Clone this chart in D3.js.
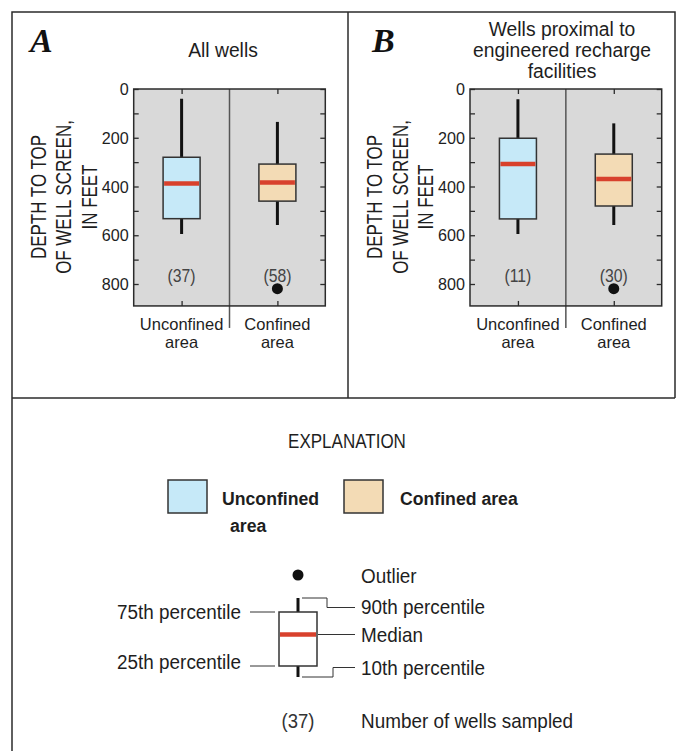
<!DOCTYPE html>
<html>
<head>
<meta charset="utf-8">
<script src="https://cdnjs.cloudflare.com/ajax/libs/d3/7.8.5/d3.min.js"></script>
<style>
  body { margin: 0; background: #fff; }
  svg { display: block; font-family: "Liberation Sans", Arial, sans-serif; }
</style>
</head>
<body>
<svg width="676" height="751"></svg>
<script>
// categories and values (depth to top of well screen, feet)
var categories = ["Unconfined area", "Confined area"]
var catLines = [["Unconfined", "area"], ["Confined", "area"]]
var fills = ["#c6e9f8", "#f3dbb5"]

// [whisker top, box top, median, box bottom, whisker bottom]
var allWells = [[40, 280, 388, 532, 595], [135, 308, 384, 460, 558]]
var allCounts = [37, 58]
var allOutliers = [[], [819]]

var proxWells = [[42, 202, 308, 533, 595], [141, 267, 369, 480, 558]]
var proxCounts = [11, 30]
var proxOutliers = [[], [819]]

var yTicks = [0, 200, 400, 600, 800]
var yMinor = [100, 300, 500, 700]

var svg = d3.select("svg")
var dark = "#2b2b2b"

// condensed-looking text: scale along the reading direction
function txt(parent, str, x, y, size, sx, anchor) {
    return parent.append("text").text(str)
        .attr("transform", "translate(" + x + "," + y + ") scale(" + sx + ",1)")
        .attr("text-anchor", anchor || "start")
        .style("font-size", size + "px").attr("fill", "#1e1e1e")
}

// frame (explanation part only has the left edge)
svg.append("path").attr("d", "M12,751 L12,12 L675,12 L675,398")
    .attr("fill", "none").attr("stroke", dark).attr("stroke-width", 1.5)
svg.append("line").attr("x1", 12).attr("x2", 675).attr("y1", 398).attr("y2", 398)
    .attr("stroke", dark).attr("stroke-width", 1.5)
svg.append("line").attr("x1", 348).attr("x2", 348).attr("y1", 12).attr("y2", 398)
    .attr("stroke", dark).attr("stroke-width", 1.5)

var yScale = d3.scaleLinear().domain([0, 800]).range([89, 284])
var yMax = 890

function panel(letter, letterX, titleLines, titleX, left, right, stats, counts, outliers) {
    var g = svg.append("g")
    var x = d3.scaleBand().domain(categories).range([left, right])
    var top = yScale(0), bottom = yScale(yMax)
    var bw = 37

    g.append("text").text(letter)
        .attr("x", letterX).attr("y", 52)
        .style("font-family", "'Liberation Serif', 'Times New Roman', serif")
        .style("font-style", "italic").style("font-weight", "bold")
        .style("font-size", "34px").attr("fill", "#111")

    titleLines.forEach(function(t, i) {
        txt(g, t, titleX, (titleLines.length == 1 ? 57 : 36 + i * 21), 21, 0.92, "middle")
    })

    g.append("rect").attr("x", left).attr("y", top)
        .attr("width", right - left).attr("height", bottom - top)
        .attr("fill", "#d9d9d9")

    // divider between categories
    g.append("line").attr("x1", x(categories[1])).attr("x2", x(categories[1]))
        .attr("y1", top).attr("y2", bottom + 22)
        .attr("stroke", "#555").attr("stroke-width", 1.5)

    // axes with inside ticks
    var yAxisL = d3.axisRight(yScale).tickValues(yTicks.concat(yMinor)).tickSize(5).tickFormat("")
    var yAxisR = d3.axisLeft(yScale).tickValues(yTicks.concat(yMinor)).tickSize(5).tickFormat("")
    var gl = g.append("g").attr("transform", "translate(" + left + ",0)").call(yAxisL)
    var gr = g.append("g").attr("transform", "translate(" + right + ",0)").call(yAxisR)
    var xc = d3.scalePoint().domain(categories).range([x(categories[0]) + x.bandwidth() / 2, x(categories[1]) + x.bandwidth() / 2])
    var gt = g.append("g").attr("transform", "translate(0," + top + ")").call(d3.axisBottom(xc).tickSize(5).tickFormat(""))
    var gb = g.append("g").attr("transform", "translate(0," + bottom + ")").call(d3.axisTop(xc).tickSize(5).tickFormat(""))
    ;[gl, gr, gt, gb].forEach(function(a) {
        a.select(".domain").remove()
        a.selectAll("line").attr("stroke", dark).attr("stroke-width", 1.3)
    })

    yTicks.forEach(function(d) {
        txt(g, d, left - 5, yScale(d) + 6, 17, 0.95, "end")
    })

    // y title, rotated
    ;["DEPTH TO TOP", "OF WELL SCREEN,", "IN FEET"].forEach(function(t, i) {
        g.append("text").text(t)
            .attr("transform", "translate(" + (left - 88 + i * 25.5) + ",197) rotate(-90) scale(0.77,1)")
            .attr("text-anchor", "middle").style("font-size", "22px").attr("fill", "#1e1e1e")
    })

    g.append("rect").attr("x", left).attr("y", top)
        .attr("width", right - left).attr("height", bottom - top)
        .attr("fill", "none").attr("stroke", dark).attr("stroke-width", 1.5)

    var boxes = g.selectAll(".box").data(stats).enter().append("g")
        .attr("transform", (d, i) => "translate(" + (x(categories[i]) + x.bandwidth() / 2) + ",0)")

    boxes.append("line").attr("x1", 0).attr("x2", 0)
        .attr("y1", d => yScale(d[0])).attr("y2", d => yScale(d[4]))
        .attr("stroke", "#111").attr("stroke-width", 3)
    boxes.append("rect").attr("x", -bw / 2).attr("width", bw)
        .attr("y", d => yScale(d[1])).attr("height", d => yScale(d[3]) - yScale(d[1]))
        .attr("fill", (d, i) => fills[i]).attr("stroke", "#333").attr("stroke-width", 1.5)
    boxes.append("line").attr("x1", -bw / 2 + 1).attr("x2", bw / 2 - 1)
        .attr("y1", d => yScale(d[2])).attr("y2", d => yScale(d[2]))
        .attr("stroke", "#d8412c").attr("stroke-width", 4.5)

    boxes.each(function(d, i) {
        d3.select(this).selectAll("circle").data(outliers[i]).enter().append("circle")
            .attr("cx", 0).attr("cy", v => yScale(v)).attr("r", 5.5).attr("fill", "#111")
        txt(d3.select(this), "(" + counts[i] + ")", 0, yScale(790), 17.5, 0.9, "middle").attr("fill", "#444")
    })

    catLines.forEach(function(lines, i) {
        lines.forEach(function(t, j) {
            txt(g, t, x(categories[i]) + x.bandwidth() / 2, 329.5 + j * 18.7, 16.5, 1, "middle")
        })
    })
}

panel("A", 30, ["All wells"], 223, 133.7, 325.3, allWells, allCounts, allOutliers)
panel("B", 372, ["Wells proximal to", "engineered recharge", "facilities"], 562, 470, 661.7, proxWells, proxCounts, proxOutliers)

// explanation
var ex = svg.append("g")
txt(ex, "EXPLANATION", 347, 447.5, 20.5, 0.83, "middle")

ex.append("rect").attr("x", 168).attr("y", 480).attr("width", 39).attr("height", 33)
    .attr("fill", fills[0]).attr("stroke", "#333").attr("stroke-width", 1.5)
ex.append("rect").attr("x", 344).attr("y", 480).attr("width", 39).attr("height", 33)
    .attr("fill", fills[1]).attr("stroke", "#333").attr("stroke-width", 1.5)
txt(ex, "Unconfined", 222, 505, 19, 0.93).style("font-weight", "bold")
txt(ex, "area", 230, 532, 19, 0.93).style("font-weight", "bold")
txt(ex, "Confined area", 400, 505, 19, 0.93).style("font-weight", "bold")

// schematic box
var cx = 298
ex.append("circle").attr("cx", cx).attr("cy", 575).attr("r", 5.5).attr("fill", "#111")
ex.append("line").attr("x1", cx).attr("x2", cx).attr("y1", 598).attr("y2", 612).attr("stroke", "#111").attr("stroke-width", 3)
ex.append("line").attr("x1", cx).attr("x2", cx).attr("y1", 666).attr("y2", 677).attr("stroke", "#111").attr("stroke-width", 3)
ex.append("rect").attr("x", 279).attr("y", 612).attr("width", 38).attr("height", 54)
    .attr("fill", "#fff").attr("stroke", "#333").attr("stroke-width", 1.5)
ex.append("line").attr("x1", 280).attr("x2", 316).attr("y1", 634.5).attr("y2", 634.5)
    .attr("stroke", "#d8412c").attr("stroke-width", 4.5)

var leader = [
    [[302, 598], [327, 598], [327, 607.5], [355, 607.5]],
    [[250, 612], [275, 612]],
    [[318, 634.5], [355, 634.5]],
    [[250, 666], [275, 666]],
    [[302, 677], [333, 677], [333, 667.5], [355, 667.5]]
]
leader.forEach(function(p) {
    ex.append("path").attr("d", d3.line()(p)).attr("fill", "none")
        .attr("stroke", "#333").attr("stroke-width", 1)
})

var rightLabels = [["Outlier", 583], ["90th percentile", 614], ["Median", 642], ["10th percentile", 675], ["Number of wells sampled", 728]]
rightLabels.forEach(function(d) {
    txt(ex, d[0], 361, d[1], 21, 0.9)
})
var leftLabels = [["75th percentile", 619], ["25th percentile", 669]]
leftLabels.forEach(function(d) {
    txt(ex, d[0], 241, d[1], 21, 0.9, "end")
})
txt(ex, "(37)", cx, 728, 21, 0.88, "middle").attr("fill", "#333")
</script>
</body>
</html>
